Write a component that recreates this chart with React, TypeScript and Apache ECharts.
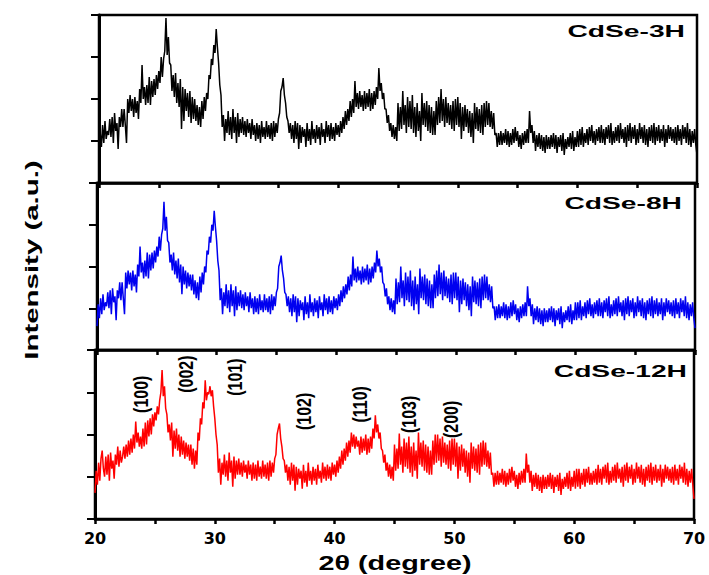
import React, { useEffect, useRef } from "react";
import * as echarts from "echarts";

// 2θ sampling: 20° to 70° in 0.1° steps (501 points)
const THETA_START = 20;
const THETA_STEP = 0.1;

// Intensities (arbitrary units, each panel axis 0–168); one row = 2°
const cdse3H = [
  26, 50, 36, 58, 40, 62, 44, 52, 48, 64, 46, 66, 40, 70, 52, 60, 34, 66, 56, 74,
  56, 74, 58, 40, 84, 70, 88, 72, 84, 66, 86, 70, 82, 64, 94, 80, 118, 84, 96, 78,
  98, 80, 106, 78, 102, 86, 104, 88, 108, 94, 112, 100, 126, 106, 124, 132, 165, 128, 146, 120,
  118, 92, 108, 86, 110, 80, 100, 76, 104, 54, 96, 62, 94, 72, 90, 66, 92, 60, 86, 64,
  84, 62, 78, 58, 76, 56, 82, 64, 86, 72, 90, 84, 108, 104, 124, 118, 138, 130, 154, 136,
  120, 98, 88, 56, 68, 42, 64, 50, 72, 48, 66, 44, 74, 50, 66, 40, 70, 46, 64, 50,
  66, 48, 62, 46, 64, 50, 60, 44, 64, 48, 58, 42, 60, 44, 58, 40, 62, 46, 56, 44,
  62, 46, 58, 44, 60, 42, 62, 46, 60, 50, 64, 70, 92, 96, 105, 88, 80, 66, 62, 50,
  60, 44, 58, 40, 62, 44, 60, 34, 58, 40, 56, 46, 54, 36, 60, 42, 54, 38, 62, 44,
  54, 40, 58, 44, 56, 38, 60, 46, 54, 40, 62, 46, 58, 42, 60, 44, 56, 42, 60, 48,
  58, 46, 62, 50, 66, 54, 72, 58, 74, 62, 82, 66, 84, 70, 102, 76, 90, 74, 92, 76,
  88, 72, 92, 74, 90, 76, 94, 72, 90, 74, 92, 78, 96, 84, 115, 92, 100, 84, 90, 74,
  74, 60, 68, 52, 60, 46, 58, 44, 56, 42, 80, 52, 76, 54, 92, 58, 78, 50, 86, 56,
  82, 54, 88, 50, 76, 46, 80, 52, 72, 42, 90, 58, 80, 56, 82, 52, 78, 50, 76, 48,
  72, 48, 82, 58, 86, 60, 94, 62, 84, 56, 86, 60, 80, 58, 78, 54, 82, 52, 84, 58,
  86, 56, 80, 44, 76, 52, 78, 56, 74, 50, 72, 46, 70, 40, 80, 54, 76, 52, 74, 50,
  78, 48, 80, 56, 82, 58, 80, 56, 72, 54, 70, 48, 50, 36, 50, 38, 52, 38, 50, 40,
  54, 38, 52, 36, 50, 38, 54, 40, 56, 42, 52, 36, 48, 34, 50, 38, 52, 40, 54, 40,
  72, 50, 58, 40, 52, 32, 48, 36, 50, 34, 48, 32, 46, 30, 48, 34, 46, 34, 48, 36,
  50, 34, 48, 30, 46, 36, 48, 32, 50, 28, 44, 34, 46, 36, 50, 34, 52, 32, 46, 36,
  52, 36, 54, 38, 56, 36, 50, 40, 54, 38, 56, 42, 58, 40, 52, 38, 54, 42, 56, 40,
  58, 40, 54, 38, 56, 44, 58, 40, 60, 38, 52, 40, 56, 42, 58, 40, 60, 44, 54, 40,
  56, 36, 58, 42, 60, 40, 56, 44, 58, 38, 54, 40, 60, 44, 56, 40, 58, 38, 54, 36,
  56, 42, 58, 40, 60, 38, 56, 42, 58, 40, 54, 42, 58, 36, 54, 40, 58, 44, 56, 42,
  54, 40, 56, 38, 58, 42, 54, 38, 58, 44, 56, 40, 60, 38, 54, 36, 52, 40, 54, 38,
  28,
];

const cdse8H = [
  24, 46, 32, 52, 36, 56, 40, 48, 44, 58, 42, 60, 36, 62, 48, 54, 30, 60, 52, 68,
  50, 68, 52, 36, 78, 62, 80, 66, 78, 60, 80, 64, 76, 58, 86, 74, 104, 78, 88, 72,
  90, 74, 98, 72, 96, 80, 98, 82, 100, 88, 104, 94, 114, 100, 116, 122, 149, 120, 134, 110,
  108, 88, 96, 80, 98, 76, 90, 72, 92, 68, 86, 56, 84, 66, 80, 62, 78, 64, 76, 60,
  76, 56, 70, 52, 68, 50, 74, 58, 78, 66, 84, 78, 100, 96, 114, 108, 126, 120, 140, 124,
  110, 90, 80, 50, 62, 36, 58, 44, 66, 42, 60, 38, 66, 44, 60, 34, 64, 40, 58, 44,
  60, 42, 56, 40, 58, 44, 54, 38, 58, 42, 52, 36, 54, 38, 52, 36, 56, 40, 50, 38,
  56, 40, 52, 38, 54, 36, 56, 40, 54, 44, 58, 62, 84, 88, 95, 80, 72, 58, 56, 44,
  54, 38, 52, 34, 56, 38, 54, 28, 52, 34, 50, 40, 48, 30, 54, 36, 48, 32, 56, 38,
  48, 34, 52, 38, 50, 32, 54, 40, 48, 34, 56, 40, 52, 36, 54, 38, 50, 36, 54, 42,
  52, 40, 56, 44, 60, 48, 64, 52, 66, 56, 74, 60, 76, 64, 94, 70, 82, 68, 84, 70,
  80, 66, 84, 68, 82, 70, 86, 66, 82, 68, 84, 72, 88, 78, 100, 84, 92, 78, 84, 68,
  66, 54, 62, 46, 54, 40, 52, 38, 50, 36, 72, 46, 68, 48, 84, 52, 70, 44, 78, 50,
  74, 48, 80, 44, 70, 40, 74, 46, 66, 36, 82, 52, 74, 50, 76, 46, 72, 44, 70, 42,
  66, 42, 76, 52, 80, 54, 86, 56, 78, 50, 80, 54, 74, 52, 72, 48, 76, 46, 78, 52,
  78, 50, 74, 38, 70, 46, 72, 50, 68, 44, 66, 40, 64, 34, 74, 48, 70, 46, 68, 44,
  72, 42, 74, 50, 76, 52, 74, 50, 66, 48, 64, 42, 44, 30, 44, 32, 46, 32, 44, 34,
  48, 32, 46, 30, 44, 32, 48, 34, 50, 36, 46, 30, 42, 28, 44, 32, 46, 34, 48, 34,
  64, 44, 52, 34, 46, 26, 42, 30, 44, 28, 42, 26, 40, 24, 42, 28, 40, 28, 42, 30,
  44, 28, 42, 24, 40, 30, 42, 26, 44, 22, 38, 28, 40, 30, 44, 28, 46, 26, 40, 30,
  48, 30, 48, 32, 50, 30, 44, 34, 48, 32, 50, 36, 52, 34, 46, 32, 48, 36, 50, 34,
  52, 34, 48, 32, 50, 38, 52, 34, 54, 32, 46, 34, 50, 36, 52, 34, 54, 38, 48, 34,
  50, 30, 52, 36, 54, 34, 50, 38, 52, 32, 48, 34, 54, 38, 50, 34, 52, 32, 48, 30,
  50, 36, 52, 34, 54, 32, 50, 36, 52, 34, 48, 36, 52, 30, 48, 34, 52, 38, 50, 36,
  48, 34, 50, 32, 52, 36, 48, 32, 52, 38, 50, 34, 54, 32, 48, 30, 46, 34, 48, 32,
  22,
];

const cdse12H = [
  26, 48, 34, 56, 38, 60, 68, 50, 42, 62, 44, 64, 38, 66, 50, 58, 40, 64, 54, 72,
  52, 68, 56, 62, 72, 60, 74, 62, 78, 64, 80, 66, 84, 70, 97, 76, 86, 72, 82, 70,
  90, 72, 96, 74, 98, 82, 100, 84, 104, 92, 106, 98, 112, 104, 118, 126, 148, 122, 132, 110,
  104, 86, 94, 78, 96, 62, 88, 70, 90, 68, 84, 62, 82, 64, 78, 60, 76, 62, 74, 58,
  74, 54, 70, 50, 68, 54, 86, 78, 100, 94, 116, 110, 138, 118, 126, 124, 132, 122, 128, 112,
  100, 84, 74, 46, 60, 34, 56, 44, 64, 42, 58, 38, 66, 46, 58, 32, 62, 40, 58, 44,
  60, 44, 56, 42, 58, 46, 54, 40, 58, 44, 54, 38, 56, 40, 54, 38, 58, 42, 52, 40,
  58, 42, 54, 40, 56, 38, 58, 42, 56, 46, 60, 64, 84, 90, 95, 80, 72, 60, 58, 46,
  54, 38, 52, 34, 56, 38, 54, 28, 52, 34, 50, 40, 48, 30, 54, 36, 48, 32, 56, 38,
  48, 34, 52, 38, 50, 34, 54, 40, 48, 36, 56, 40, 52, 38, 54, 40, 52, 38, 56, 44,
  54, 42, 58, 46, 62, 50, 68, 54, 70, 58, 76, 62, 78, 66, 86, 72, 84, 70, 82, 72,
  78, 64, 82, 66, 80, 68, 84, 64, 80, 66, 82, 70, 90, 80, 103, 86, 94, 80, 86, 70,
  68, 56, 64, 48, 56, 42, 54, 40, 52, 38, 74, 48, 70, 50, 85, 54, 72, 46, 80, 52,
  76, 50, 82, 46, 72, 42, 76, 48, 68, 40, 86, 54, 76, 52, 78, 48, 74, 46, 72, 44,
  68, 44, 78, 54, 84, 56, 84, 58, 80, 52, 82, 56, 76, 54, 74, 50, 78, 48, 80, 54,
  80, 52, 76, 40, 72, 48, 74, 52, 70, 46, 68, 42, 66, 36, 76, 50, 72, 48, 70, 46,
  74, 44, 76, 52, 78, 54, 76, 52, 68, 50, 66, 44, 46, 32, 46, 34, 48, 34, 46, 36,
  50, 34, 48, 32, 46, 34, 50, 36, 52, 38, 48, 32, 44, 30, 46, 34, 48, 36, 50, 36,
  65, 46, 54, 36, 48, 28, 44, 32, 46, 30, 44, 28, 42, 26, 44, 30, 42, 30, 44, 32,
  46, 30, 44, 26, 42, 32, 44, 28, 46, 24, 40, 30, 42, 32, 46, 30, 48, 28, 42, 32,
  48, 30, 50, 32, 50, 30, 46, 34, 50, 32, 50, 36, 52, 34, 46, 34, 48, 36, 50, 34,
  54, 36, 50, 34, 52, 40, 54, 36, 56, 34, 48, 36, 52, 38, 54, 36, 56, 40, 50, 36,
  52, 32, 54, 38, 56, 36, 52, 40, 54, 34, 50, 36, 56, 40, 52, 36, 54, 34, 50, 32,
  52, 38, 54, 36, 56, 34, 52, 38, 54, 36, 50, 38, 54, 32, 50, 36, 54, 40, 52, 38,
  50, 36, 52, 34, 54, 38, 50, 34, 54, 40, 52, 36, 56, 34, 50, 32, 48, 36, 50, 34,
  20,
];

const sampleNames = ["CdSe-3H", "CdSe-8H", "CdSe-12H"];
const seriesColors = ["#000000", "#0000f0", "#ff0000"];

// Miller index annotations on the CdSe-12H panel: label, 2θ, intensity
const millerLabels = ["(100)", "(002)", "(101)", "(102)", "(110)", "(103)", "(200)"];
const millerTheta = [23.85, 27.6, 31.7, 37.45, 42.1, 46.2, 49.7];
const millerIntensity = [124, 144, 141, 107, 114, 104, 99];

const X_MIN = 20;
const X_MAX = 70;
const X_INTERVAL = 5;
const Y_MAX = 168;
const Y_INTERVAL = 42;

const FONT = '"Liberation Sans", Arial, Helvetica, sans-serif';

export default function App() {
  const ref = useRef<HTMLDivElement>(null);

  useEffect(() => {
    if (!ref.current) return;
    const chart = echarts.init(ref.current, null, { renderer: "svg" });

    const allData = [cdse3H, cdse8H, cdse12H];
    const toPairs = (arr: number[]) =>
      arr.map((v, i) => [+(THETA_START + i * THETA_STEP).toFixed(1), v]);

    const grids = [
      { left: 99, right: 12, top: 15, height: 168 },
      { left: 97, right: 14, top: 183, height: 167 },
      { left: 95, right: 15, top: 350, height: 169 },
    ].map((g) => ({
      ...g,
      show: true,
      borderColor: "#000",
      borderWidth: 2.5,
      backgroundColor: "transparent",
    }));

    const xAxes = [0, 1, 2].map((i) => ({
      type: "value",
      gridIndex: i,
      min: X_MIN,
      max: X_MAX,
      interval: X_INTERVAL,
      axisLine: { show: true, onZero: false, lineStyle: { color: "#000", width: 2.5 } },
      axisTick: { show: true, inside: false, length: 5, lineStyle: { color: "#000", width: 2.5 } },
      axisLabel: {
        show: i === 2,
        interval: 1,
        margin: 11,
        color: "#000",
        fontSize: 16,
        fontWeight: "bold",
        fontFamily: '"DejaVu Sans", sans-serif',
        formatter: (v: number) => (v % 10 === 0 ? String(v) : ""),
      },
      splitLine: { show: false },
    }));

    const yAxes = [0, 1, 2].map((i) => ({
      type: "value",
      gridIndex: i,
      min: 0,
      max: Y_MAX,
      interval: Y_INTERVAL,
      axisLine: { show: true, onZero: false, lineStyle: { color: "#000", width: 3 } },
      axisTick: { show: true, inside: false, length: 8, lineStyle: { color: "#000", width: 2 } },
      axisLabel: { show: false },
      splitLine: { show: false },
    }));

    const series = allData.map((arr, i) => ({
      type: "line",
      name: sampleNames[i],
      xAxisIndex: i,
      yAxisIndex: i,
      data: toPairs(arr),
      showSymbol: false,
      symbol: "none",
      lineStyle: { color: seriesColors[i], width: 1.5 },
      itemStyle: { color: seriesColors[i] },
      z: 1,
    }));

    const titlePos = [
      { x: 685, y: 31 },
      { x: 682, y: 203 },
      { x: 687, y: 371 },
    ];

    const staticGraphics: any[] = [
      {
        type: "text",
        x: 31,
        y: 260,
        rotation: Math.PI / 2,
        scaleX: 1.55,
        style: {
          text: "Intensity (a.u.)",
          font: `bold 19px ${FONT}`,
          fill: "#000",
          align: "center",
          verticalAlign: "middle",
          textAlign: "center",
          textVerticalAlign: "middle",
        },
      },
      {
        type: "text",
        x: 395,
        y: 562,
        scaleX: 1.37,
        style: {
          text: "2θ (degree)",
          font: `bold 21px ${FONT}`,
          fill: "#000",
          align: "center",
          verticalAlign: "middle",
          textAlign: "center",
          textVerticalAlign: "middle",
        },
      },
      ...sampleNames.map((name, i) => ({
        type: "text",
        x: titlePos[i].x,
        y: titlePos[i].y,
        scaleX: 1.66,
        style: {
          text: name,
          font: `bold 17px ${FONT}`,
          fill: "#000",
          align: "right",
          verticalAlign: "middle",
          textAlign: "right",
          textVerticalAlign: "middle",
        },
      })),
    ];

    chart.setOption({
      animation: false,
      backgroundColor: "#fff",
      grid: grids,
      xAxis: xAxes,
      yAxis: yAxes,
      series,
      graphic: staticGraphics,
    });

    const millerGraphics = millerLabels.map((t, i) => {
      const p = chart.convertToPixel({ gridIndex: 2 } as any, [millerTheta[i], millerIntensity[i]]) as number[];
      return {
        type: "text",
        x: p[0],
        y: p[1],
        rotation: Math.PI / 2,
        scaleX: 0.76,
        style: {
          text: t,
          font: `bold 21px ${FONT}`,
          fill: "#000",
          align: "center",
          verticalAlign: "middle",
          textAlign: "center",
          textVerticalAlign: "middle",
        },
      };
    });

    chart.setOption({ graphic: [...staticGraphics, ...millerGraphics] });

    return () => chart.dispose();
  }, []);

  return <div ref={ref} style={{ width: 709, height: 575, position: "absolute", left: 0, top: 0 }} />;
}
